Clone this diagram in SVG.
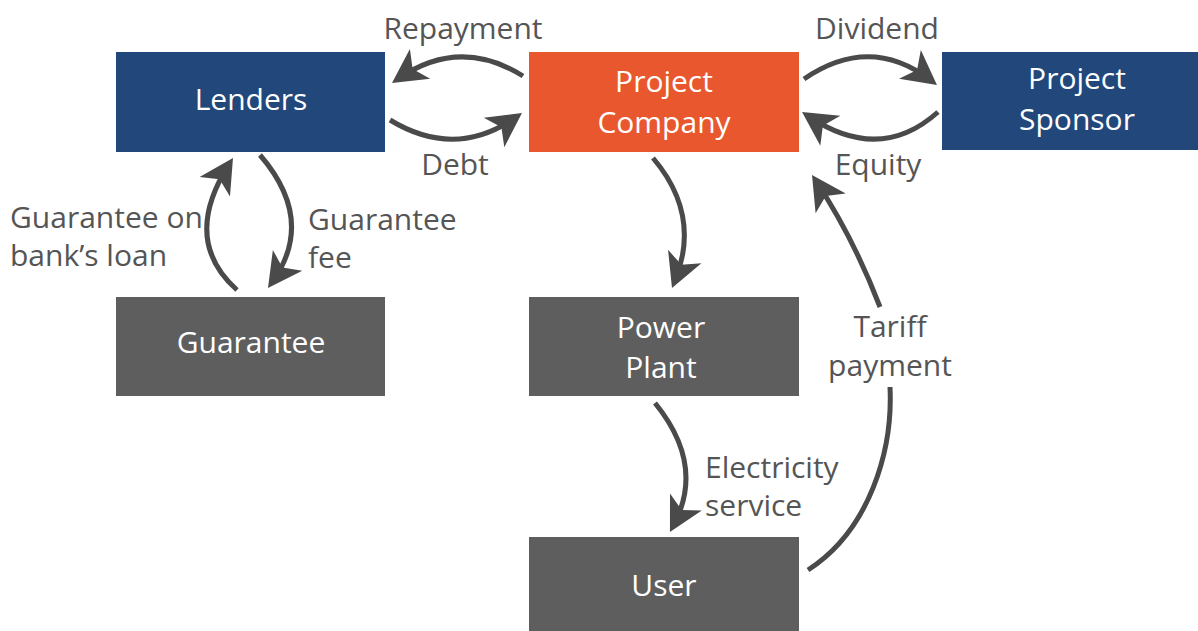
<svg xmlns="http://www.w3.org/2000/svg" width="1198" height="631" viewBox="0 0 1198 631">
<style>
.blue{fill:#22477a}
.orange{fill:#e8572d}
.grey{fill:#5e5e5e}
.nt{font-family:"Open Sans","Liberation Sans",sans-serif;font-size:30px;fill:#ffffff;text-anchor:middle}
.lb{font-family:"Open Sans","Liberation Sans",sans-serif;font-size:30px;fill:#555555}
.c{fill:none;stroke:#4a4a4a;stroke-width:5}
</style>
<defs>
<marker id="ah" markerUnits="userSpaceOnUse" viewBox="-30 -20 50 40" markerWidth="50" markerHeight="40" refX="0" refY="0" orient="auto" overflow="visible">
<path d="M8,0 L-26,-18 L-17,0 L-26,18 Z" fill="#4a4a4a"/>
</marker>
</defs>
<rect width="1198" height="631" fill="#ffffff"/>
<g id="lenders"><rect class="blue" x="116" y="52" width="269" height="100"/><text class="nt" x="251" y="110">Lenders</text></g>
<g id="project-company"><rect class="orange" x="529" y="52" width="270" height="100"/><text class="nt" x="664" y="92">Project</text><text class="nt" x="664" y="133">Company</text></g>
<g id="project-sponsor"><rect class="blue" x="942" y="52" width="256" height="98"/><text class="nt" x="1077" y="89">Project</text><text class="nt" x="1077" y="130">Sponsor</text></g>
<g id="guarantee"><rect class="grey" x="116" y="297" width="269" height="99"/><text class="nt" x="251" y="353">Guarantee</text></g>
<g id="power-plant"><rect class="grey" x="529" y="297" width="270" height="99"/><text class="nt" x="661" y="338">Power</text><text class="nt" x="661" y="378">Plant</text></g>
<g id="user"><rect class="grey" x="529" y="537" width="270" height="94"/><text class="nt" x="664" y="596">User</text></g>
<g id="connectors">
<path class="c" d="M523,76 Q460,36.5 398.6,78.5" marker-end="url(#ah)"/>
<path class="c" d="M390,120 Q455,159.5 515.4,117.6" marker-end="url(#ah)"/>
<path class="c" d="M804,79 Q870,34 930.6,80.2" marker-end="url(#ah)"/>
<path class="c" d="M938,112 Q880,164 808.7,116.4" marker-end="url(#ah)"/>
<path class="c" d="M237,290 Q181,240 228.7,164.8" marker-end="url(#ah)"/>
<path class="c" d="M260,155 Q316,220 272.6,281.5" marker-end="url(#ah)"/>
<path class="c" d="M653,158 Q701.5,215 675,280.6" marker-end="url(#ah)"/>
<path class="c" d="M655,403 Q705.5,465 673.7,524.9" marker-end="url(#ah)"/>
<path class="c" d="M808,570 C870,530 893,450 890,387"/>
<path class="c" d="M880,307 Q854,239 816.4,181.7" marker-end="url(#ah)"/>
<text class="lb" x="463" y="39" text-anchor="middle">Repayment</text>
<text class="lb" x="877" y="39" text-anchor="middle">Dividend</text>
<text class="lb" x="455" y="175" text-anchor="middle">Debt</text>
<text class="lb" x="878" y="175" text-anchor="middle">Equity</text>
<text class="lb" x="10" y="228">Guarantee on</text>
<text class="lb" x="10" y="266">bank’s loan</text>
<text class="lb" x="308" y="230">Guarantee</text>
<text class="lb" x="308" y="268">fee</text>
<text class="lb" x="705" y="478">Electricity</text>
<text class="lb" x="705" y="516">service</text>
<text class="lb" x="890" y="337" text-anchor="middle">Tariff</text>
<text class="lb" x="890" y="376" text-anchor="middle">payment</text>
</g>
</svg>
